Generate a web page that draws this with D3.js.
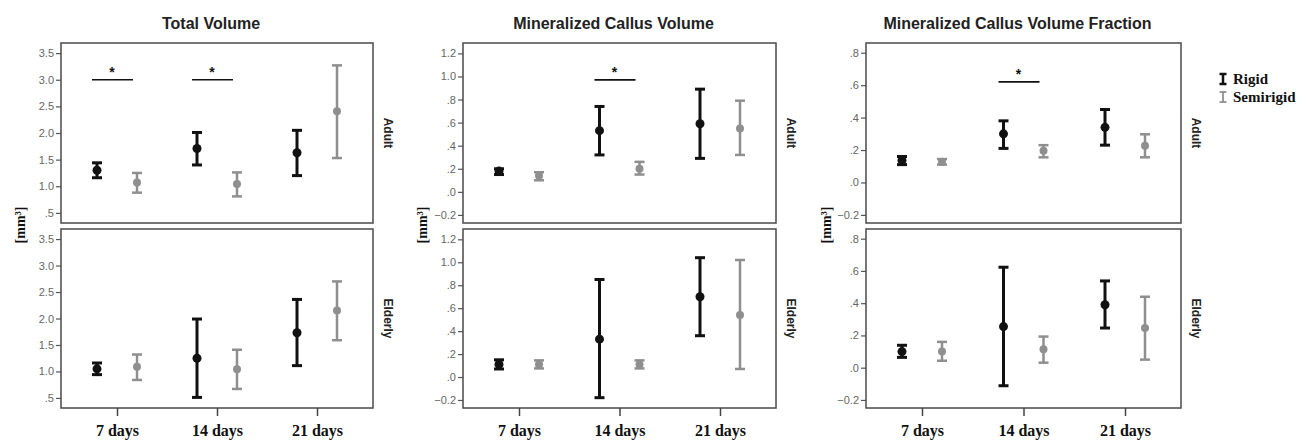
<!DOCTYPE html>
<html lang="en">
<head>
    <meta charset="UTF-8">
    <title>Callus volume - error bars</title>
    <script src="https://cdn.jsdelivr.net/npm/d3@7"></script>
    <style>
        body { margin: 0; background: #fff; }
        svg { display: block; }
    </style>
</head>
<body>
</body>
</html>
<script>
    // categories
    var days = ["7 days", "14 days", "21 days"];
    var groups = ["Rigid", "Semirigid"];
    var ages = ["Adult", "Elderly"];

    // [mean, lower, upper] per day
    var tvAdultRigid = [[1.30, 1.16, 1.44], [1.71, 1.40, 2.01], [1.63, 1.20, 2.05]];
    var tvAdultSemi = [[1.07, 0.88, 1.25], [1.04, 0.81, 1.26], [2.41, 1.53, 3.27]];
    var tvElderRigid = [[1.05, 0.94, 1.16], [1.25, 0.51, 1.99], [1.73, 1.11, 2.36]];
    var tvElderSemi = [[1.09, 0.84, 1.32], [1.04, 0.67, 1.41], [2.15, 1.59, 2.70]];

    var mcvAdultRigid = [[0.18, 0.15, 0.20], [0.53, 0.32, 0.74], [0.59, 0.29, 0.89]];
    var mcvAdultSemi = [[0.14, 0.10, 0.17], [0.20, 0.15, 0.26], [0.55, 0.32, 0.79]];
    var mcvElderRigid = [[0.11, 0.07, 0.15], [0.33, -0.18, 0.85], [0.70, 0.36, 1.04]];
    var mcvElderSemi = [[0.11, 0.075, 0.145], [0.11, 0.075, 0.145], [0.54, 0.07, 1.02]];

    var fracAdultRigid = [[0.136, 0.11, 0.16], [0.30, 0.21, 0.38], [0.34, 0.23, 0.45]];
    var fracAdultSemi = [[0.128, 0.11, 0.144], [0.196, 0.155, 0.23], [0.227, 0.155, 0.297]];
    var fracElderRigid = [[0.10, 0.064, 0.139], [0.255, -0.112, 0.623], [0.39, 0.246, 0.538]];
    var fracElderSemi = [[0.10, 0.043, 0.16], [0.114, 0.031, 0.193], [0.246, 0.05, 0.44]];

    // significance bars (Adult row only)
    var tvSig = [["7 days", 3.0], ["14 days", 3.0]];
    var mcvSig = [["14 days", 0.97]];
    var fracSig = [["14 days", 0.62]];

    // tick labels
    var tvTicks = [0.5, 1.0, 1.5, 2.0, 2.5, 3.0, 3.5];
    var mcvTicks = [-0.2, 0, 0.2, 0.4, 0.6, 0.8, 1.0, 1.2];
    var fracTicks = [-0.2, 0, 0.2, 0.4, 0.6, 0.8];

    var panels = [
        {title: "Total Volume", left: 61, right: 373, domain: [0.31, 3.69], ticks: tvTicks,
            rows: [[tvAdultRigid, tvAdultSemi], [tvElderRigid, tvElderSemi]], sig: tvSig, ylabX: 20},
        {title: "Mineralized Callus Volume", left: 463, right: 776, domain: [-0.27, 1.29], ticks: mcvTicks,
            rows: [[mcvAdultRigid, mcvAdultSemi], [mcvElderRigid, mcvElderSemi]], sig: mcvSig, ylabX: 422},
        {title: "Mineralized Callus Volume Fraction", left: 866, right: 1181, domain: [-0.25, 0.86], ticks: fracTicks,
            rows: [[fracAdultRigid, fracAdultSemi], [fracElderRigid, fracElderSemi]], sig: fracSig, ylabX: 826}
    ];

    var rowBox = [[43, 223], [229, 408]];
    var colors = {Rigid: "#111", Semirigid: "#8f8f8f"};
    var widths = {Rigid: 3, Semirigid: 2.5};
    var offsets = {Rigid: -20, Semirigid: 20};

    var width = 1306, height = 440;
    var svg = d3.select("body").append("svg")
            .attr("width", width)
            .attr("height", height);

    // SPSS style numbers: .5 / -.2 / .0
    function spss(v) {
        var s = d3.format(".1f")(v);
        return s.replace(/^(-?)0\./, "$1.");
    }

    panels.forEach(function (p) {
        var x = d3.scalePoint().domain(days).range([p.left + 56, p.right - 56]);

        svg.append("text")
                .attr("x", (p.left + p.right) / 2 - 6)
                .attr("y", 29)
                .attr("text-anchor", "middle")
                .attr("font-family", "Arial, 'Liberation Sans', sans-serif")
                .attr("font-weight", "bold")
                .attr("font-size", 16)
                .attr("fill", "#222")
                .text(p.title);

        svg.append("text")
                .attr("transform", "translate(" + p.ylabX + ",225) rotate(-90)")
                .attr("text-anchor", "middle")
                .attr("dy", "0.35em")
                .attr("font-family", "'Liberation Serif', 'Times New Roman', serif")
                .attr("font-weight", "bold")
                .attr("font-size", 14)
                .attr("fill", "#111")
                .text("[mm³]");

        p.rows.forEach(function (row, ri) {
            var top = rowBox[ri][0], bottom = rowBox[ri][1];
            var y = d3.scaleLinear().domain(p.domain).range([bottom, top]);
            var g = svg.append("g");

            // y axis
            var ax = g.append("g")
                    .attr("transform", "translate(" + p.left + ",0)")
                    .call(d3.axisLeft(y).tickValues(p.ticks).tickSize(5).tickPadding(2).tickFormat(spss));
            ax.select(".domain").remove();
            ax.selectAll(".tick line").attr("stroke", "#555").attr("stroke-width", 1.2);
            ax.selectAll(".tick text")
                    .attr("fill", "#666")
                    .attr("font-family", "Arial, 'Liberation Sans', sans-serif")
                    .attr("font-size", 11);

            // box
            g.append("rect")
                    .attr("x", p.left)
                    .attr("y", top)
                    .attr("width", p.right - p.left)
                    .attr("height", bottom - top)
                    .attr("fill", "none")
                    .attr("stroke", "#4a4a4a")
                    .attr("stroke-width", 1.5);

            // facet label
            g.append("text")
                    .attr("transform", "translate(" + (p.right + 10) + "," + ((top + bottom) / 2) + ") rotate(90)")
                    .attr("text-anchor", "middle")
                    .attr("dy", "-0.1em")
                    .attr("font-family", "Arial, 'Liberation Sans', sans-serif")
                    .attr("font-weight", "bold")
                    .attr("font-size", 12)
                    .attr("fill", "#222")
                    .text(ages[ri]);

            // error bars
            row.forEach(function (series, si) {
                var grp = groups[si];
                series.forEach(function (d, di) {
                    var cx = x(days[di]) + offsets[grp];
                    var eb = g.append("g")
                            .attr("stroke", colors[grp])
                            .attr("stroke-width", widths[grp]);
                    eb.append("line").attr("x1", cx).attr("x2", cx).attr("y1", y(d[1])).attr("y2", y(d[2]));
                    eb.append("line").attr("x1", cx - 5).attr("x2", cx + 5).attr("y1", y(d[1])).attr("y2", y(d[1]));
                    eb.append("line").attr("x1", cx - 5).attr("x2", cx + 5).attr("y1", y(d[2])).attr("y2", y(d[2]));
                    g.append("circle")
                            .attr("cx", cx)
                            .attr("cy", y(d[0]))
                            .attr("r", grp === "Rigid" ? 4.5 : 4)
                            .attr("fill", colors[grp]);
                });
            });

            // significance (Adult)
            if (ri === 0) {
                p.sig.forEach(function (s) {
                    var cx = x(s[0]);
                    g.append("line")
                            .attr("x1", cx - 25).attr("x2", cx + 16)
                            .attr("y1", y(s[1])).attr("y2", y(s[1]))
                            .attr("stroke", "#111")
                            .attr("stroke-width", 1.6);
                    g.append("text")
                            .attr("x", cx - 5)
                            .attr("y", y(s[1]) - 3)
                            .attr("text-anchor", "middle")
                            .attr("font-family", "Arial, sans-serif")
                            .attr("font-weight", "bold")
                            .attr("font-size", 14)
                            .attr("fill", "#111")
                            .text("*");
                });
            }

            // x axis on bottom row
            if (ri === 1) {
                var xa = g.append("g")
                        .attr("transform", "translate(0," + bottom + ")")
                        .call(d3.axisBottom(x).tickSize(8).tickPadding(9));
                xa.select(".domain").remove();
                xa.selectAll(".tick line").attr("stroke", "#444").attr("stroke-width", 1.5);
                xa.selectAll(".tick text")
                        .attr("fill", "#111")
                        .attr("font-family", "'Liberation Serif', 'Times New Roman', serif")
                        .attr("font-weight", "bold")
                        .attr("font-size", 16);
            }
        });
    });

    // legend
    var legend = svg.append("g").attr("transform", "translate(1223,0)");
    groups.forEach(function (grp, i) {
        var yc = 79 + i * 18;
        var lg = legend.append("g").attr("stroke", colors[grp]).attr("stroke-width", grp === "Rigid" ? 2.5 : 1.8);
        lg.append("line").attr("x1", 0).attr("x2", 0).attr("y1", yc - 5).attr("y2", yc + 5);
        lg.append("line").attr("x1", -3.5).attr("x2", 3.5).attr("y1", yc - 5).attr("y2", yc - 5);
        lg.append("line").attr("x1", -3.5).attr("x2", 3.5).attr("y1", yc + 5).attr("y2", yc + 5);
        legend.append("text")
                .attr("x", 10)
                .attr("y", yc + 5)
                .attr("font-family", "'Liberation Serif', 'Times New Roman', serif")
                .attr("font-weight", "bold")
                .attr("font-size", 15)
                .attr("fill", "#111")
                .text(grp);
    });
</script>
